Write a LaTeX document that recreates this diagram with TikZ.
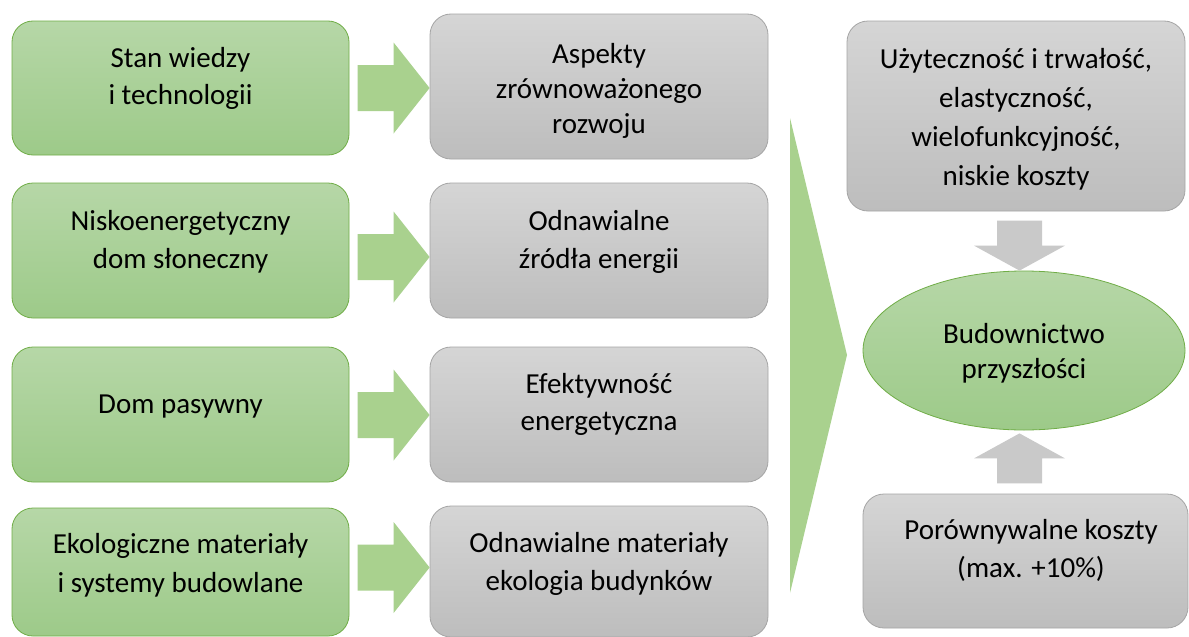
\documentclass[tikz,border=0pt]{standalone}
\usepackage{fontspec}
\setmainfont{Carlito}
\usetikzlibrary{shapes.geometric}

\definecolor{gtop}{RGB}{182,215,167}
\definecolor{gbot}{RGB}{157,202,137}
\definecolor{gline}{RGB}{112,173,71}
\definecolor{ktop}{RGB}{213,213,213}
\definecolor{kbot}{RGB}{189,189,189}
\definecolor{kline}{RGB}{165,165,165}
\definecolor{garr}{RGB}{169,209,142}
\definecolor{karr}{RGB}{201,201,201}

% block arrow pointing right, tip at #1
\newcommand\rightblock[1]{%
  \fill[garr] ([shift={(-72,-23)}]#1) -- ([shift={(-36,-23)}]#1)
    -- ([shift={(-36,-45.5)}]#1) -- (#1) -- ([shift={(-36,45.5)}]#1)
    -- ([shift={(-36,23)}]#1) -- ([shift={(-72,23)}]#1) -- cycle;}
% vertical block arrow, tip at #1, direction sign #2 (1 = down, -1 = up)
\newcommand\vertblock[2]{%
  \fill[karr] ([shift={(-22.5,-50*#2)}]#1) -- ([shift={(22.5,-50*#2)}]#1)
    -- ([shift={(22.5,-25*#2)}]#1) -- ([shift={(45.5,-25*#2)}]#1) -- (#1)
    -- ([shift={(-45.5,-25*#2)}]#1) -- ([shift={(-22.5,-25*#2)}]#1) -- cycle;}

\begin{document}
\begin{tikzpicture}[x=1pt,y=-1pt,
  box/.style={rectangle, rounded corners=21pt, line width=0.8pt, inner sep=0pt},
  greenbox/.style={box, draw=gline, top color=gtop, bottom color=gbot, minimum width=337pt},
  graybox/.style={box, draw=kline, top color=ktop, bottom color=kbot, minimum width=338pt},
  txt/.style={font=\fontsize{29}{37}\selectfont, align=center, inner sep=0pt, text=black},
  txtA/.style={txt, font=\fontsize{29}{35}\selectfont},
  txtB/.style={txt, font=\fontsize{29}{39}\selectfont},
  txtC/.style={txt, font=\fontsize{29}{38}\selectfont}]

\fill[white] (0,0) rectangle (1189,637);
\useasboundingbox (0,0) rectangle (1189,637);

% left column
\node[greenbox, minimum height=134pt] (g1) at (180.5,88) {};
\node[greenbox, minimum height=135pt] (g2) at (180.5,250.5) {};
\node[greenbox, minimum height=135pt] (g3) at (180.5,414.5) {};
\node[greenbox, minimum height=128pt] (g4) at (180.5,572) {};

% middle column
\node[graybox, minimum height=145pt] (a1) at (599,86.5) {};
\node[graybox, minimum height=135pt] (a2) at (599,250.5) {};
\node[graybox, minimum height=135pt] (a3) at (599,414.5) {};
\node[graybox, minimum height=131pt] (a4) at (599,571.5) {};

% right column
\node[graybox, minimum height=190pt] (r1) at (1016,116) {};
\node[ellipse, draw=gline, line width=0.8pt, top color=gtop, bottom color=gbot,
      minimum width=322pt, minimum height=159pt, inner sep=0pt] (ell) at (1024,350.5) {};
\node[graybox, minimum width=325pt, minimum height=134pt] (r2) at (1025.5,561) {};

% texts
\node[txt]  (g1t) at (180.5,78.1) {\strut Stan wiedzy\\\strut i technologii};
\node[txtA] (a1t) at (599,91) {\strut Aspekty\\\strut zrównoważonego\\\strut rozwoju};
\node[txtC] (g2t) at (180.5,241.4) {\strut Niskoenergetyczny\\\strut dom słoneczny};
\node[txtC] (a2t) at (599,241.4) {\strut Odnawialne\\\strut źródła energii};
\node[txt]  (g3t) at (180.5,405.6) {\strut Dom pasywny};
\node[txt]  (a3t) at (599,404.1) {\strut Efektywność\\\strut energetyczna};
\node[txtB] (g4t) at (180.5,564.7) {\strut Ekologiczne materiały\\\strut i systemy budowlane};
\node[txtC] (a4t) at (599,563.4) {\strut Odnawialne materiały\\\strut ekologia budynków};
\node[txtB] (r1t) at (1016,118.7) {\strut Użyteczność i trwałość,\\\strut elastyczność,\\\strut wielofunkcyjność,\\\strut niskie koszty};
\node[txtA] (ellt) at (1024,353.5) {\strut Budownictwo\\\strut przyszłości};
\node[txtC] (r2t) at (1031,550.4) {\strut Porównywalne koszty\\\strut (max. +10\%)};

% arrows between the columns
\coordinate (t1) at ([yshift=-1.5pt]a1.west);
\coordinate (t2) at ([yshift=-6.5pt]a2.west);
\coordinate (t3) at ([yshift=-0.5pt]a3.west);
\coordinate (t4) at ([yshift=4pt]a4.west);
\rightblock{t1}
\rightblock{t2}
\rightblock{t3}
\rightblock{t4}

% large wedge towards the result
\fill[garr] (790,118) -- (847,355) -- (790,593) -- cycle;

% arrows into the ellipse
\coordinate (dtip) at ([xshift=-4.5pt]ell.north);
\coordinate (utip) at ([xshift=-4.5pt,yshift=-3pt]ell.south);
\vertblock{dtip}{1}
\vertblock{utip}{-1}
\end{tikzpicture}
\end{document}
